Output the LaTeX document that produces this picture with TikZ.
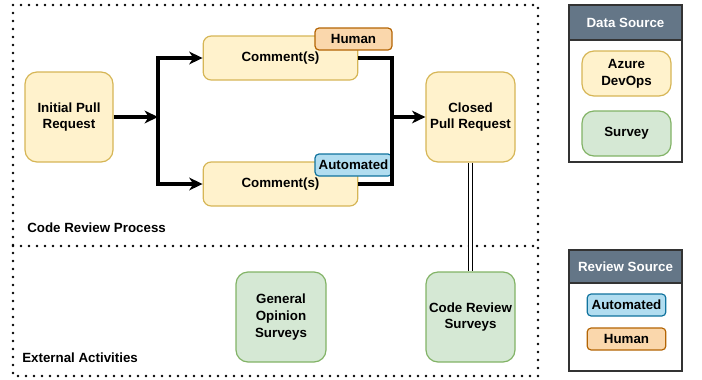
\documentclass[tikz,border=0pt]{standalone}
\usepackage{fontspec}
\setmainfont{Liberation Sans}
\usetikzlibrary{arrows.meta}
\definecolor{ylwfill}{HTML}{FFF2CC}
\definecolor{ylwline}{HTML}{D6B656}
\definecolor{grnfill}{HTML}{D5E8D4}
\definecolor{grnline}{HTML}{82B366}
\definecolor{bluefill}{HTML}{B1DDF0}
\definecolor{blueline}{HTML}{10739E}
\definecolor{orgfill}{HTML}{FAD7AC}
\definecolor{orgline}{HTML}{B46504}
\definecolor{hdrfill}{HTML}{647687}
\begin{document}
\begin{tikzpicture}[x=0.75pt, y=-0.75pt,
    font=\fontsize{10}{12.5}\selectfont\bfseries,
    box/.style={draw, line width=0.9pt, rounded corners=9pt, align=center, inner sep=0pt},
    ylw/.style={box, fill=ylwfill, draw=ylwline},
    grn/.style={box, fill=grnfill, draw=grnline},
    tag/.style={box, rounded corners=3pt, minimum width=57.75pt, minimum height=16.5pt},
    conn/.style={line width=2.8pt, black},
    tip/.style={-{Stealth[length=10pt, width=9.5pt, inset=3pt]}},
    region/.style={line width=2pt, dash pattern=on 0pt off 6pt, line cap=round, black},
    legend/.style={draw=black!80, line width=1.2pt}]
    \useasboundingbox (0,0) rectangle (702,379);
    % regions
    \draw[region](13,5) rectangle (538,376);
    \draw[region](13,246)--(538,246);
    \node[anchor=west, inner sep=0pt] (crp) at (27,228) {Code Review Process};
    \node[anchor=west, inner sep=0pt] (ext) at (22,358) {External Activities};
    % process
    \node[ylw, minimum width=66pt, minimum height=67.5pt] (ipr) at (69,117) {Initial Pull\\Request};
    \node[ylw, rounded corners=6pt, minimum width=116pt, minimum height=33pt] (c1) at (280.5,58) {Comment(s)};
    \node[ylw, rounded corners=6pt, minimum width=116pt, minimum height=33pt] (c2) at (280.5,184) {Comment(s)};
    \node[tag, fill=orgfill, draw=orgline] (hum) at (353.5,39) {Human};
    \node[tag, fill=bluefill, draw=blueline] (aut) at (353.5,165) {Automated};
    \node[ylw, minimum width=66.75pt, minimum height=67.5pt] (cpr) at (470.5,117) {Closed\\Pull Request};
    \coordinate (split) at (158,117);
    \coordinate (merge) at (392,117);
    \draw[conn, tip](ipr.east)--(split);
    \draw[conn, tip](split)|-(c1.west);
    \draw[conn, tip](split)|-(c2.west);
    \draw[conn](c1.east)-|(merge)|-(c2.east);
    \draw[conn, tip](merge)--(cpr.west);
    % surveys
    \node[grn, minimum width=67.5pt, minimum height=67.5pt] (gos) at (281,317) {General\\Opinion\\Surveys};
    \node[grn, minimum width=66.75pt, minimum height=67.5pt] (crs) at (470.5,317) {Code Review\\Surveys};
    \draw[double, double distance=2pt, line width=0.7pt](cpr.south)--(crs.north);
    % legends
    \draw[legend, fill=white](569,5) rectangle (682,162);
    \draw[legend, fill=hdrfill](569,5) rectangle (682,40);
    \node[white] (dsh) at (625.5,22.5) {Data Source};
    \node[ylw, minimum width=66.75pt, minimum height=33.75pt] (azr) at (626.5,73.5) {Azure\\DevOps};
    \node[grn, minimum width=66.75pt, minimum height=33.75pt] (srv) at (626.5,133.5) {Survey};
    \draw[legend, fill=white](569,250) rectangle (682,371);
    \draw[legend, fill=hdrfill](569,250) rectangle (682,283);
    \node[white] (rsh) at (625.5,266.5) {Review Source};
    \node[tag, fill=bluefill, draw=blueline, minimum width=59pt] (laut) at (626.5,305) {Automated};
    \node[tag, fill=orgfill, draw=orgline, minimum width=59pt] (lhum) at (626.5,339) {Human};
\end{tikzpicture}
\end{document}
